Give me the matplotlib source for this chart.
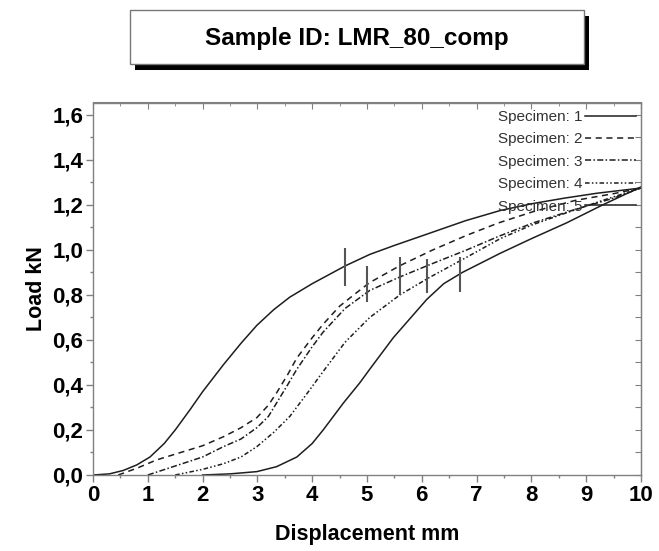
import matplotlib as mpl
import matplotlib.pyplot as plt
from matplotlib.patches import Rectangle
from matplotlib.ticker import MultipleLocator, FuncFormatter

mpl.rc("figure", facecolor="white")
mpl.rc("font", family=["Liberation Sans", "DejaVu Sans"])

# specimen curves (displacement mm, load kN)
s1_x = [0, 0.3, 0.55, 0.8, 1.04, 1.3, 1.5, 1.77, 2.0, 2.38, 2.7, 2.99, 3.3, 3.59,
        4.0, 4.61, 5.05, 5.5, 6.21, 6.8, 7.43, 8.0, 8.6, 9.2, 10.0]
s1_y = [0, 0.005, 0.02, 0.045, 0.08, 0.14, 0.2, 0.29, 0.37, 0.49, 0.585, 0.665, 0.735, 0.79,
        0.85, 0.93, 0.98, 1.02, 1.08, 1.13, 1.175, 1.205, 1.23, 1.252, 1.275]

s2_x = [0.46, 0.8, 1.16, 1.6, 2.0, 2.38, 2.7, 2.99, 3.2, 3.35, 3.55, 3.72, 4.0, 4.2,
        4.5, 4.81, 5.05, 5.6, 6.2, 6.82, 7.4, 8.03, 8.8, 9.5, 10.0]
s2_y = [0, 0.03, 0.067, 0.10, 0.13, 0.17, 0.21, 0.255, 0.31, 0.365, 0.445, 0.52, 0.61, 0.67,
        0.75, 0.81, 0.855, 0.93, 1.0, 1.065, 1.12, 1.17, 1.22, 1.25, 1.275]

s3_x = [1.0, 1.5, 2.0, 2.38, 2.7, 2.99, 3.2, 3.35, 3.55, 3.72, 4.0, 4.2, 4.6, 5.05,
        5.6, 6.2, 6.82, 7.4, 8.03, 8.8, 9.5, 10.0]
s3_y = [0, 0.04, 0.08, 0.126, 0.16, 0.21, 0.26, 0.32, 0.40, 0.47, 0.57, 0.635, 0.74, 0.82,
        0.88, 0.94, 1.0, 1.06, 1.12, 1.18, 1.23, 1.275]

s4_x = [1.5, 2.0, 2.38, 2.7, 2.99, 3.3, 3.59, 3.9, 4.2, 4.6, 5.05, 5.6, 6.12, 6.8,
        7.43, 8.0, 8.64, 9.3, 10.0]
s4_y = [0, 0.025, 0.05, 0.08, 0.126, 0.19, 0.26, 0.36, 0.46, 0.59, 0.70, 0.80, 0.875, 0.965,
        1.05, 1.11, 1.165, 1.22, 1.275]

s5_x = [2.0, 2.5, 2.99, 3.35, 3.72, 4.0, 4.2, 4.57, 4.87, 5.05, 5.48, 6.09, 6.4, 6.74,
        7.43, 8.0, 8.64, 9.3, 10.0]
s5_y = [0, 0.005, 0.015, 0.037, 0.08, 0.14, 0.2, 0.32, 0.41, 0.47, 0.61, 0.78, 0.85, 0.90,
        0.985, 1.05, 1.12, 1.2, 1.28]

labels = ["Specimen: 1", "Specimen: 2", "Specimen: 3", "Specimen: 4", "Specimen: 5"]

# vertical break markers
mark_x = [4.6, 5.0, 5.6, 6.1, 6.7]
mark_lo = [0.84, 0.77, 0.80, 0.81, 0.815]
mark_hi = [1.01, 0.93, 0.97, 0.96, 0.97]

W, H = 659, 551
fig = plt.figure(figsize=(W / 100, H / 100), dpi=100)
ax = fig.add_axes([93 / W, 1 - 475 / H, 548 / W, 372.5 / H])

lc = "#1e1e1e"
styles = [
    dict(ls="-"),
    dict(ls=(0, (4, 3))),
    dict(ls=(0, (4, 1.5, 1, 1.5))),
    dict(ls=(0, (3, 1.5, 1, 1.5, 1, 1.5))),
    dict(ls="-"),
]
series = [(s1_x, s1_y), (s2_x, s2_y), (s3_x, s3_y), (s4_x, s4_y), (s5_x, s5_y)]
handles = []
for (xs, ys), st, lab in zip(series, styles, labels):
    h, = ax.plot(xs, ys, color=lc, lw=1.1, label=lab, **st)
    handles.append(h)

ax.vlines(mark_x, mark_lo, mark_hi, color="#555555", lw=1.5)

ax.set_xlim(0, 10)
ax.set_ylim(0, 1.655)

spc = "#808080"
for s in ax.spines.values():
    s.set_color(spc)
    s.set_linewidth(1.0)

ax.xaxis.set_major_locator(MultipleLocator(1))
ax.xaxis.set_minor_locator(MultipleLocator(0.5))
ax.yaxis.set_major_locator(MultipleLocator(0.2))
ax.yaxis.set_minor_locator(MultipleLocator(0.1))
ax.yaxis.set_major_formatter(FuncFormatter(lambda v, p: f"{v:.1f}".replace(".", ",")))

ax.tick_params(which="both", direction="out", color=spc, width=1.0)
ax.tick_params(which="major", length=5, labelsize=16, pad=2)
ax.tick_params(which="minor", length=2.5)
for t in ax.get_xticklabels() + ax.get_yticklabels():
    t.set_fontweight("bold")

# inward ticks on the top and right
top = ax.secondary_xaxis("top")
top.xaxis.set_major_locator(MultipleLocator(1))
top.xaxis.set_minor_locator(MultipleLocator(0.5))
top.tick_params(which="both", direction="in", color=spc, labeltop=False)
top.tick_params(which="major", length=5)
top.tick_params(which="minor", length=3)
top.spines["top"].set_color(spc)
right = ax.secondary_yaxis("right")
right.yaxis.set_major_locator(MultipleLocator(0.1))
right.tick_params(which="both", direction="in", color=spc, labelright=False, length=4)
right.yaxis.set_minor_locator(mpl.ticker.NullLocator())
right.spines["right"].set_color(spc)

ax.set_xlabel("Displacement mm", fontsize=15.5, fontweight="bold", labelpad=13)
ax.set_ylabel("Load kN", fontsize=15.5, fontweight="bold", labelpad=4)

leg = ax.legend(handles=handles, loc="upper right", bbox_to_anchor=(0.99, 0.98),
                frameon=False, markerfirst=False, fontsize=11, handlelength=3.3,
                handletextpad=0.15, labelspacing=0.55, borderpad=0, borderaxespad=0)
for t in leg.get_texts():
    t.set_color("#333333")

# title box with drop shadow
fig.patches.append(Rectangle((135 / W, 1 - 70 / H), 454 / W, 54 / H,
                             transform=fig.transFigure, facecolor="black",
                             edgecolor="none", zorder=1))
fig.patches.append(Rectangle((130 / W, 1 - 64 / H), 454 / W, 54 / H,
                             transform=fig.transFigure, facecolor="white",
                             edgecolor="#777777", lw=1.0, zorder=2))
fig.text(357 / W, 1 - 38 / H, "Sample ID: LMR_80_comp", ha="center", va="center",
         fontsize=17.5, fontweight="bold", zorder=3)

fig.savefig("out.png", dpi=100)
